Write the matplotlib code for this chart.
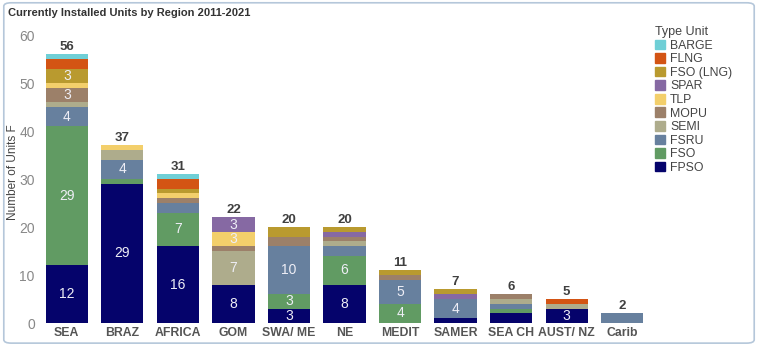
import numpy as np
import matplotlib.pyplot as plt
from matplotlib.patches import FancyBboxPatch, Patch

plt.rcParams['font.family'] = ['Liberation Sans', 'DejaVu Sans']

# Dados
regioes = ['SEA', 'BRAZ', 'AFRICA', 'GOM', 'SWA/ ME', 'NE', 'MEDIT', 'SAMER', 'SEA CH', 'AUST/ NZ', 'Carib']
tipos = ['FPSO', 'FSO', 'FSRU', 'SEMI', 'MOPU', 'TLP', 'SPAR', 'FSO (LNG)', 'FLNG', 'BARGE']

fpso     = [12, 29, 16, 8, 3, 8, 0, 1, 2, 3, 0]
fso      = [29, 1, 7, 0, 3, 6, 4, 0, 1, 0, 0]
fsru     = [4, 4, 2, 0, 10, 2, 5, 4, 1, 0, 2]
semi     = [1, 2, 0, 7, 0, 1, 0, 0, 1, 1, 0]
mopu     = [3, 0, 1, 1, 2, 1, 1, 0, 1, 0, 0]
tlp      = [1, 1, 1, 3, 0, 0, 0, 0, 0, 0, 0]
spar     = [0, 0, 0, 3, 0, 1, 0, 1, 0, 0, 0]
fso_lng  = [3, 0, 1, 0, 2, 1, 1, 1, 0, 0, 0]
flng     = [2, 0, 2, 0, 0, 0, 0, 0, 0, 1, 0]
barge    = [1, 0, 1, 0, 0, 0, 0, 0, 0, 0, 0]

series = [fpso, fso, fsru, semi, mopu, tlp, spar, fso_lng, flng, barge]
cores = ['#05036b', '#619b63', '#67809e', '#aeac8c', '#9c8069',
         '#f3cf6b', '#8669a3', '#b99a2f', '#d35414', '#6fcfd6']

fig = plt.figure(figsize=(7.58, 3.48), dpi=100)
ax = fig.add_axes([0.0515, 0.0718, 0.806, 0.841])

x = np.arange(len(regioes))
base = np.zeros(len(regioes))
for vals, cor in zip(series, cores):
    vals = np.array(vals, dtype=float)
    ax.bar(x, vals, bottom=base, width=0.76, color=cor, linewidth=0)
    for xi, v, b in zip(x, vals, base):
        if v >= 3:
            ax.text(xi, b + v / 2, f'{int(v)}', ha='center', va='center',
                    color='#eeeef6', fontsize=10)
    base = base + vals

for xi, tot in zip(x, base):
    ax.annotate(f'{int(tot)}', (xi, tot), xytext=(0, 1), textcoords='offset points',
                ha='center', va='bottom', fontsize=9.5, fontweight='bold', color='#404040')

ax.set_xlim(-0.5, 10.5)
ax.set_ylim(0, 61)
ax.set_yticks([0, 10, 20, 30, 40, 50, 60])
ax.set_xticks(x)
ax.set_xticklabels(regioes, fontsize=8.8, fontweight='bold', color='#555555')
ax.tick_params(axis='y', length=0, labelcolor='#888888', labelsize=10, pad=3)
ax.tick_params(axis='x', length=0, pad=3)
for s in ax.spines.values():
    s.set_visible(False)

fig.text(0.017, 0.505, 'Number of Units F', rotation=90, ha='center', va='center',
         fontsize=8.5, color='#444444')

handles = [Patch(color=c, label=t) for t, c in zip(tipos, cores)][::-1]
leg = fig.legend(handles=handles, title='Type Unit', loc='upper left',
                 bbox_to_anchor=(0.864, 0.925), frameon=False, fontsize=8.8,
                 title_fontsize=9, handlelength=0.85, handleheight=0.85,
                 handletextpad=0.4, labelspacing=0.12, borderaxespad=0, borderpad=0)
leg._legend_box.align = 'left'
for t in leg.get_texts():
    t.set_color('#444444')
leg.get_title().set_color('#444444')

fig.text(0.011, 0.962, 'Currently Installed Units by Region 2011-2021', ha='left', va='center',
         fontsize=8, fontweight='bold', color='#333333')

borda = FancyBboxPatch((0.005, 0.014), 0.99, 0.978, boxstyle='round,pad=0,rounding_size=0.01',
                       transform=fig.transFigure, fill=False, edgecolor='#b5c7da', linewidth=1.2)
fig.patches.append(borda)

fig.savefig('out.png', dpi=100)
